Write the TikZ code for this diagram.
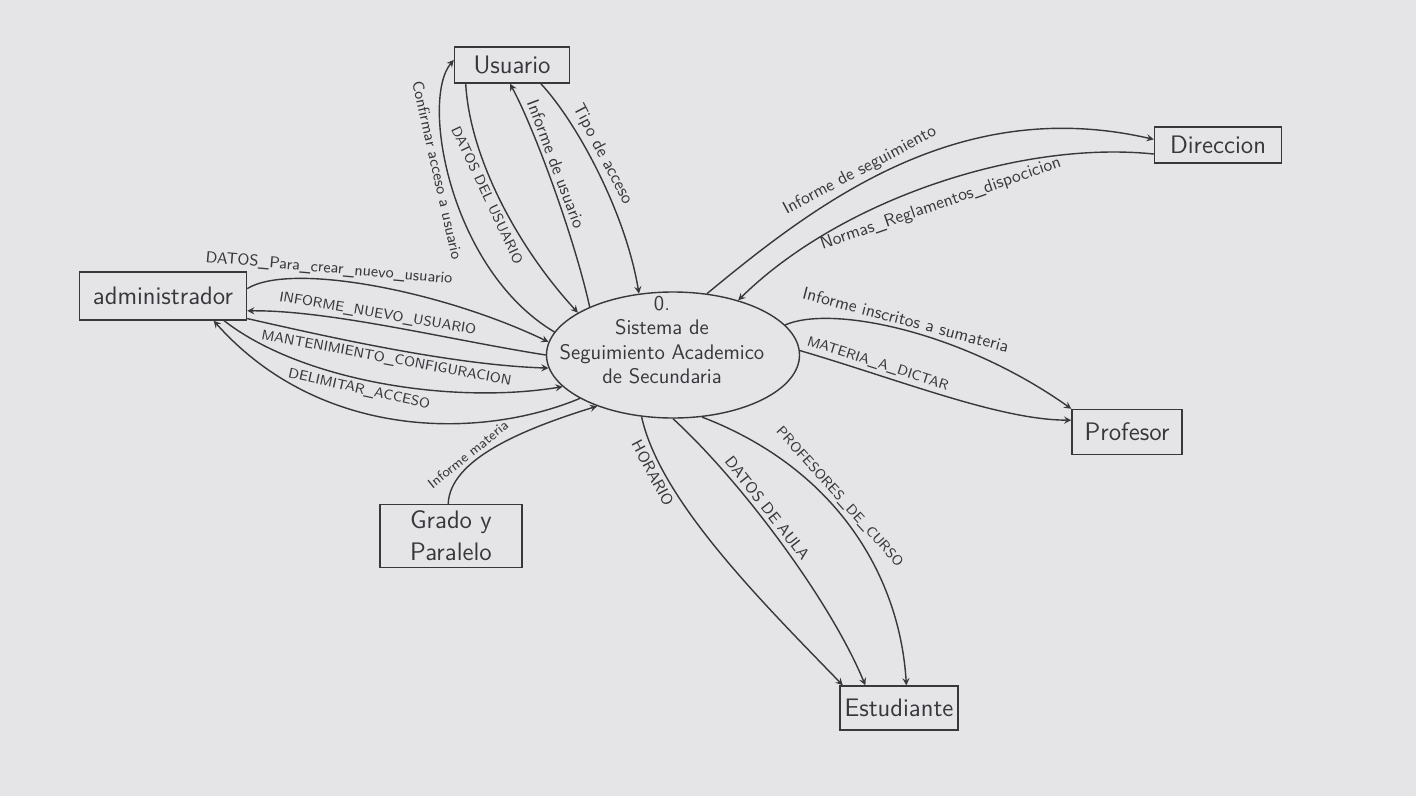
\documentclass[tikz,border=0pt]{standalone}
\usetikzlibrary{shapes.geometric}
\definecolor{paper}{RGB}{229,229,232}
\definecolor{pencil}{RGB}{55,55,60}
\begin{document}
\begin{tikzpicture}[x=0.2mm,y=-0.2mm,>=stealth,
  ent/.style={draw=pencil,line width=0.8pt,font=\sffamily\Large,text=pencil,inner sep=2pt},
  flow/.style={->,draw=pencil,line width=0.8pt},
  lbl/.style={font=\sffamily\footnotesize,text=pencil,sloped,inner sep=2pt},
  midlbl/.style={lbl,font=\sffamily\small},
  biglbl/.style={lbl,font=\sffamily\normalsize}]
  \fill[paper] (0,0) rectangle (1416,796);
  \useasboundingbox (0,0) rectangle (1416,796);
  \node[ellipse,draw=pencil,line width=0.8pt,minimum width=50.6mm,minimum height=25.2mm] (proc) at (673,355) {};
  \node[align=center,font=\sffamily\large,text=pencil] (proctext) at (662,340) {0.\\Sistema de\\Seguimiento Academico\\de Secundaria};
  \node[ent,minimum width=23mm,minimum height=7.2mm] (usuario) at (512,65) {Usuario};
  \node[ent,minimum width=25.4mm,minimum height=7.2mm] (direccion) at (1218,145) {Direccion};
  \node[ent,minimum width=33.4mm,minimum height=9.6mm] (admin) at (163,296) {administrador};
  \node[ent,minimum width=22mm,minimum height=9mm] (profesor) at (1127,432) {Profesor};
  \node[ent,minimum width=28.4mm,minimum height=12.6mm,align=left] (grado) at (451,536) {Grado y\\Paralelo};
  \node[ent,minimum width=23.6mm,minimum height=8.8mm] (estudiante) at (899,708) {Estudiante};
  \draw[flow] (usuario.-33) .. controls (575,120) and (625,210) .. (proc.119) node[biglbl,above,pos=0.45] {Tipo de acceso};
  \draw[flow] (proc.150) .. controls (575,240) and (535,130) .. (usuario.-96) node[biglbl,above,pos=0.58] {Informe de usuario};
  \draw[flow] (usuario.-158) .. controls (470,160) and (520,250) .. (proc.156) node[lbl,below,pos=0.45] {DATOS DEL USUARIO};
  \draw[flow] (proc.169) .. controls (450,270) and (420,100) .. (usuario.175) node[midlbl,below,pos=0.56] {Confirmar acceso a usuario};
  \draw[flow] (admin.5) .. controls (290,262) and (440,290) .. (proc.174) node[midlbl,above,pos=0.36] {DATOS\_Para\_crear\_nuevo\_usuario};
  \draw[flow] (proc.180) .. controls (450,340) and (330,310) .. (admin.-10) node[lbl,above,pos=0.55] {INFORME\_NUEVO\_USUARIO};
  \draw[flow] (admin.-15) .. controls (320,335) and (450,365) .. (proc.186) node[lbl,below,pos=0.5] {MANTENIMIENTO\_CONFIGURACION};
  \draw[flow] (admin.-22) .. controls (300,380) and (450,405) .. (proc.196) node[lbl,below,pos=0.45] {DELIMITAR\_ACCESO};
  \draw[flow] (proc.205) .. controls (480,440) and (320,440) .. (admin.-26);
  \draw[flow] (grado.95) .. controls (450,460) and (520,430) .. (proc.214) node[lbl,above,pos=0.36] {Informe materia};
  \draw[flow] (proc.61) .. controls (820,200) and (960,95) .. (direccion.175) node[biglbl,above,pos=0.42] {Informe de seguimiento};
  \draw[flow] (direccion.188) .. controls (1020,140) and (840,200) .. (proc.40) node[biglbl,below=5pt,pos=0.5] {Normas\_Reglamentos\_dispocicion};
  \draw[flow] (proc.15) .. controls (830,305) and (960,330) .. (profesor.north west) node[biglbl,above,pos=0.5] {Informe inscritos a sumateria};
  \draw[flow] (proc.2) .. controls (900,380) and (1000,420) .. (profesor.168) node[lbl,above,pos=0.25] {MATERIA\_A\_DICTAR};
  \draw[flow] (proc.243) .. controls (660,500) and (760,600) .. (estudiante.158) node[midlbl,below,pos=0.2] {HORARIO};
  \draw[flow] (proc.270) .. controls (740,480) and (830,600) .. (estudiante.146) node[midlbl,above,pos=0.4] {DATOS DE AULA};
  \draw[flow] (proc.295) .. controls (840,470) and (900,580) .. (estudiante.72) node[lbl,above,pos=0.4] {PROFESORES\_DE\_CURSO};
\end{tikzpicture}
\end{document}
